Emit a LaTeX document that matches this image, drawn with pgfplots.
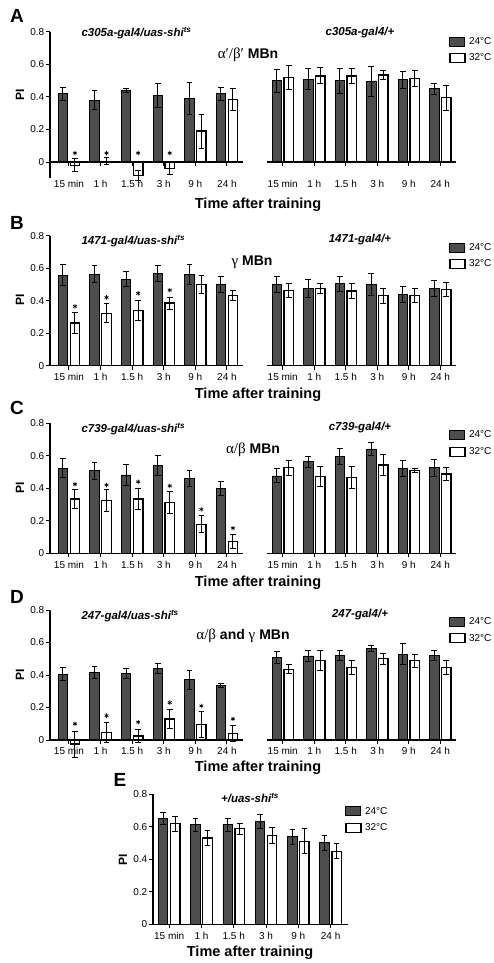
\documentclass[border=0pt]{standalone}
\usepackage{pgfplots}
\pgfplotsset{compat=1.18}
\usepackage{pgfplotstable}
\usepackage{fontspec}
\setmainfont{Liberation Sans}
\newfontfamily\serif{Liberation Serif}
\definecolor{barfill}{HTML}{4D4D4D}

% columns: dark bar x, white bar x, dark mean, dark err, white mean, white err, star y
\pgfplotstableread{
xd xw d de w we s
-0.19 0.19 0.42 0.04 -0.02 0.04 0.055
0.81 1.19 0.38 0.06 0.005 0.02 0.055
1.81 2.19 0.44 0.01 -0.085 0.03 0.055
2.81 3.19 0.41 0.075 -0.04 0.035 0.055
3.81 4.19 0.39 0.10 0.19 0.105 nan
4.81 5.19 0.42 0.04 0.385 0.07 nan
}\Aleft
\pgfplotstableread{
xd xw d de w we
-0.19 0.19 0.50 0.07 0.52 0.075
0.81 1.19 0.51 0.065 0.53 0.05
1.81 2.19 0.50 0.077 0.53 0.045
2.81 3.19 0.495 0.09 0.535 0.03
3.81 4.19 0.505 0.05 0.515 0.048
4.81 5.19 0.45 0.035 0.395 0.077
}\Aright
\pgfplotstableread{
xd xw d de w we s
-0.19 0.19 0.556 0.065 0.262 0.065 0.365
0.81 1.19 0.564 0.055 0.323 0.06 0.42
1.81 2.19 0.533 0.045 0.34 0.06 0.445
2.81 3.19 0.566 0.05 0.385 0.037 0.465
3.81 4.19 0.56 0.062 0.498 0.056 nan
4.81 5.19 0.498 0.05 0.43 0.03 nan
}\Bleft
\pgfplotstableread{
xd xw d de w we
-0.19 0.19 0.498 0.05 0.463 0.045
0.81 1.19 0.475 0.057 0.473 0.03
1.81 2.19 0.504 0.046 0.46 0.048
2.81 3.19 0.498 0.067 0.43 0.048
3.81 4.19 0.436 0.05 0.43 0.043
4.81 5.19 0.473 0.05 0.469 0.046
}\Bright
\pgfplotstableread{
xd xw d de w we s
-0.19 0.19 0.523 0.058 0.334 0.06 0.425
0.81 1.19 0.507 0.05 0.324 0.067 0.42
1.81 2.19 0.482 0.067 0.334 0.067 0.44
2.81 3.19 0.54 0.06 0.314 0.067 0.415
3.81 4.19 0.462 0.048 0.178 0.053 0.27
4.81 5.19 0.40 0.044 0.072 0.045 0.155
}\Cleft
\pgfplotstableread{
xd xw d de w we
-0.19 0.19 0.476 0.043 0.527 0.046
0.81 1.19 0.564 0.033 0.472 0.06
1.81 2.19 0.595 0.048 0.468 0.068
2.81 3.19 0.642 0.038 0.544 0.067
3.81 4.19 0.523 0.05 0.509 0.01
4.81 5.19 0.527 0.053 0.488 0.04
}\Cright
\pgfplotstableread{
xd xw d de w we s
-0.19 0.19 0.404 0.04 -0.025 0.08 0.10
0.81 1.19 0.414 0.038 0.047 0.06 0.15
1.81 2.19 0.41 0.03 0.025 0.04 0.11
2.81 3.19 0.44 0.03 0.13 0.058 0.23
3.81 4.19 0.37 0.06 0.096 0.08 0.21
4.81 5.19 0.334 0.012 0.04 0.048 0.13
}\Dleft
\pgfplotstableread{
xd xw d de w we
-0.19 0.19 0.509 0.036 0.435 0.028
0.81 1.19 0.517 0.034 0.488 0.06
1.81 2.19 0.519 0.031 0.447 0.041
2.81 3.19 0.564 0.02 0.50 0.034
3.81 4.19 0.529 0.062 0.488 0.04
4.81 5.19 0.519 0.03 0.447 0.043
}\Dright
\pgfplotstableread{
xd xw d de w we
-0.186 0.186 0.652 0.036 0.62 0.046
0.814 1.186 0.614 0.04 0.532 0.046
1.814 2.186 0.614 0.04 0.588 0.034
2.814 3.186 0.635 0.043 0.546 0.048
3.814 4.186 0.538 0.048 0.511 0.076
4.814 5.186 0.501 0.047 0.45 0.046
}\Edata

\pgfplotsset{
  errstyle/.style={
    error bars/y dir=both, error bars/y explicit,
    error bars/error bar style={line width=1pt, black},
    error bars/error mark options={rotate=90, mark size=2.8pt, line width=1pt, black}},
  dark/.style={ybar, bar shift=0pt, bar width=9.5pt, fill=barfill, draw=black, line width=0.9pt,
    legend image code/.code={\draw[fill=barfill, draw=black, line width=0.9pt] (0pt,-4.5pt) rectangle (15pt,4.5pt);},
    errstyle},
  light/.style={ybar, bar shift=0pt, bar width=9.5pt, fill=white, draw=black, line width=1.3pt,
    legend image code/.code={\draw[fill=white, draw=black, line width=1.3pt] (0pt,-4.5pt) rectangle (15pt,4.5pt);},
    errstyle},
  stars/.style={only marks, mark=asterisk, mark size=2.2pt, mark options={line width=0.7pt, black}},
  panel/.style={
    anchor=south west, x=31.6pt, y=162.5pt, ymin=0, ymax=0.8, clip=false, axis on top,
    xtick={0,1,2,3,4,5}, xticklabels={15 min,1 h,1.5 h,3 h,9 h,24 h},
    axis x line*=bottom, x axis line style={line width=1.2pt},
    tick style={black, line width=1pt}, major tick length=4pt, tick align=outside,
    ticklabel style={font=\fontsize{10}{12}\selectfont},
    /pgf/number format/assume math mode=true,
    yticklabel style={/pgf/number format/fixed, /pgf/number format/precision=1, inner sep=1.5pt},
  },
  leftpanel/.style={panel, xmin=-0.6, xmax=5.5, axis y line*=left, y axis line style={line width=1.2pt},
    ytick={0,0.2,0.4,0.6,0.8}},
  rightpanel/.style={panel, xmin=-0.5, xmax=5.5, x=31.5pt, axis y line=none,
    legend cell align=left,
    legend style={draw=none, fill=none, anchor=west, inner sep=0pt, row sep=4pt, column sep=1.5pt,
      font=\fontsize{10}{11}\selectfont}},
}

\begin{document}
\begin{tikzpicture}
\path[use as bounding box] (0,0) rectangle (493pt,-963pt);

% ---------- A ----------
\begin{axis}[leftpanel, at={(50pt,-162pt)}, xticklabel style={yshift=-11pt}]
\addplot[dark] table[x=xd,y=d,y error=de]{\Aleft};
\addplot[light] table[x=xw,y=w,y error=we]{\Aleft};
\addplot[stars] table[x=xw,y=s]{\Aleft};
\draw[line width=1.2pt] (axis cs:-0.6,0) -- (axis cs:-0.6,-0.1);
\end{axis}
\begin{axis}[rightpanel, at={(267pt,-162pt)}, xticklabel style={yshift=-11pt},
  legend style={at={(axis description cs:0.963,0.863)}}]
\addplot[dark] table[x=xd,y=d,y error=de]{\Aright};
\addlegendentry{24°C}
\addplot[light] table[x=xw,y=w,y error=we]{\Aright};
\addlegendentry{32°C}
\end{axis}

% ---------- B ----------
\begin{axis}[leftpanel, at={(50pt,-365.7pt)}]
\addplot[dark] table[x=xd,y=d,y error=de]{\Bleft};
\addplot[light] table[x=xw,y=w,y error=we]{\Bleft};
\addplot[stars] table[x=xw,y=s]{\Bleft};
\end{axis}
\begin{axis}[rightpanel, at={(267pt,-365.7pt)},
  legend style={at={(axis description cs:0.963,0.844)}}]
\addplot[dark] table[x=xd,y=d,y error=de]{\Bright};
\addlegendentry{24°C}
\addplot[light] table[x=xw,y=w,y error=we]{\Bright};
\addlegendentry{32°C}
\end{axis}

% ---------- C ----------
\begin{axis}[leftpanel, at={(50pt,-553.3pt)}]
\addplot[dark] table[x=xd,y=d,y error=de]{\Cleft};
\addplot[light] table[x=xw,y=w,y error=we]{\Cleft};
\addplot[stars] table[x=xw,y=s]{\Cleft};
\end{axis}
\begin{axis}[rightpanel, at={(267pt,-553.3pt)},
  legend style={at={(axis description cs:0.963,0.845)}}]
\addplot[dark] table[x=xd,y=d,y error=de]{\Cright};
\addlegendentry{24°C}
\addplot[light] table[x=xw,y=w,y error=we]{\Cright};
\addlegendentry{32°C}
\end{axis}

% ---------- D ----------
\begin{axis}[leftpanel, at={(50pt,-740pt)}]
\addplot[dark] table[x=xd,y=d,y error=de]{\Dleft};
\addplot[light] table[x=xw,y=w,y error=we]{\Dleft};
\addplot[stars] table[x=xw,y=s]{\Dleft};
\end{axis}
\begin{axis}[rightpanel, at={(267pt,-740pt)},
  legend style={at={(axis description cs:0.963,0.846)}}]
\addplot[dark] table[x=xd,y=d,y error=de]{\Dright};
\addlegendentry{24°C}
\addplot[light] table[x=xw,y=w,y error=we]{\Dright};
\addlegendentry{32°C}
\end{axis}

% ---------- E ----------
\begin{axis}[leftpanel, at={(153pt,-924.3pt)}, x=32.3pt, xmin=-0.5, xmax=5.55,
  legend cell align=left,
  legend style={at={(axis description cs:0.983,0.806)}, draw=none, fill=none, anchor=west, inner sep=0pt, row sep=4pt, column sep=1.5pt,
      font=\fontsize{10}{11}\selectfont}]
\addplot[dark] table[x=xd,y=d,y error=de]{\Edata};
\addlegendentry{24°C}
\addplot[light] table[x=xw,y=w,y error=we]{\Edata};
\addlegendentry{32°C}
\end{axis}

% ---------- text ----------
\tikzset{
  letter/.style={font=\bfseries\fontsize{19}{19}\selectfont},
  ttl/.style={font=\bfseries\itshape\fontsize{11.5}{12}\selectfont},
  xl/.style={font=\bfseries\fontsize{14.5}{14.5}\selectfont},
  yl/.style={font=\bfseries\fontsize{12}{12}\selectfont, rotate=90},
  mb/.style={font=\fontsize{14}{14}\selectfont},
}
\node[letter] at (17pt,-16pt) {A};
\node[letter] at (17pt,-223pt) {B};
\node[letter] at (17pt,-408pt) {C};
\node[letter] at (17pt,-597pt) {D};
\node[letter] at (120pt,-780pt) {E};

\node[yl] at (20pt,-95pt) {PI};
\node[yl] at (20pt,-300pt) {PI};
\node[yl] at (20pt,-488pt) {PI};
\node[yl] at (20pt,-675pt) {PI};
\node[yl] at (123pt,-860pt) {PI};

\node[ttl, anchor=west] at (78pt,-33pt) {c305a-gal4/uas-shi\textsuperscript{ts}};
\node[ttl] at (360pt,-33pt) {c305a-gal4/+};
\node[ttl, anchor=west] at (78pt,-241pt) {1471-gal4/uas-shi\textsuperscript{ts}};
\node[ttl] at (360pt,-240pt) {1471-gal4/+};
\node[ttl, anchor=west] at (78pt,-429pt) {c739-gal4/uas-shi\textsuperscript{ts}};
\node[ttl] at (360pt,-428pt) {c739-gal4/+};
\node[ttl, anchor=west] at (78pt,-616pt) {247-gal4/uas-shi\textsuperscript{ts}};
\node[ttl] at (360pt,-615pt) {247-gal4/+};
\node[ttl] at (250pt,-798pt) {+/uas-shi\textsuperscript{ts}};

\node[mb] at (248pt,-55pt) {{\serif\fontsize{15}{15}\selectfont α′/β′} \textbf{MBn}};
\node[mb] at (252pt,-262pt) {{\serif\fontsize{15}{15}\selectfont γ} \textbf{MBn}};
\node[mb] at (253pt,-450pt) {{\serif\fontsize{15}{15}\selectfont α/β} \textbf{MBn}};
\node[mb] at (243pt,-636pt) {{\serif\fontsize{15}{15}\selectfont α/β} \textbf{and} {\serif\fontsize{15}{15}\selectfont γ} \textbf{MBn}};

\node[xl] at (258pt,-205pt) {Time after training};
\node[xl] at (258pt,-395pt) {Time after training};
\node[xl] at (258pt,-583pt) {Time after training};
\node[xl] at (258pt,-768pt) {Time after training};
\node[xl] at (250pt,-953pt) {Time after training};
\end{tikzpicture}
\end{document}
